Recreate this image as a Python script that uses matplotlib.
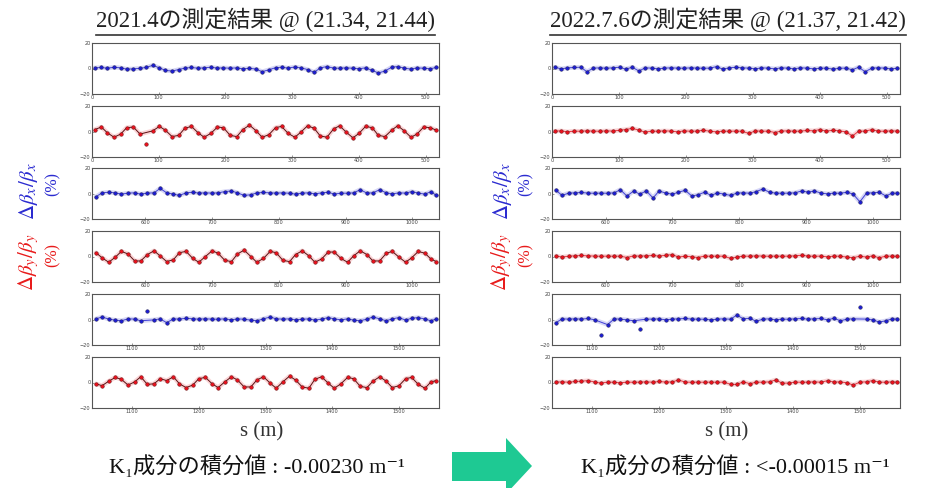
import numpy as np
import matplotlib
matplotlib.use('Agg')
import matplotlib.pyplot as plt
from matplotlib.lines import Line2D
from matplotlib.patches import Polygon

# ---------------- data ----------------
s_seg1 = [4, 14, 23, 33, 43, 52, 62, 72, 81,
          91, 101, 110, 120, 130, 139, 149, 159, 168,
          178, 188, 197, 207, 217, 226, 236, 246, 255,
          265, 275, 284, 294, 304, 313, 323, 333, 342,
          352, 362, 371, 381, 391, 400, 410, 420, 429,
          439, 449, 458, 468, 478, 487, 497, 507, 516]
s_seg2 = [526, 535, 545, 555, 564, 574, 584, 593, 603,
          613, 622, 632, 642, 651, 661, 671, 680, 690,
          700, 709, 719, 729, 738, 748, 758, 767, 777,
          787, 796, 806, 816, 825, 835, 845, 854, 864,
          874, 883, 893, 903, 912, 922, 932, 941, 951,
          961, 970, 980, 990, 999, 1009, 1019, 1028, 1036]
s_seg3 = [1046, 1055, 1065, 1075, 1084, 1094, 1104, 1113, 1123,
          1133, 1142, 1152, 1162, 1171, 1181, 1191, 1200, 1210,
          1220, 1229, 1239, 1249, 1258, 1268, 1278, 1287, 1297,
          1307, 1316, 1326, 1336, 1345, 1355, 1365, 1374, 1384,
          1394, 1403, 1413, 1423, 1432, 1442, 1452, 1461, 1471,
          1481, 1490, 1500, 1510, 1519, 1529, 1539, 1548, 1556]
s_bpm = s_seg1 + s_seg2 + s_seg3

# 2021.4 measurement: Δβx/βx (%)
dbx_2021 = [0.5, 0.8, 0.2, 1.0, 0.5, -0.5, -0.3, 0.2, 0.8,
            2.5, 0.5, -1.5, -2.0, -0.8, 0.3, 0.8, 0.2, 0.5,
            1.0, 0.3, 0.5, 0.2, 0.5, -0.3, 0.2, -0.5, -2.5,
            -1.0, 0.6, 1.0, 0.3, 1.2, 0.5, -0.8, -3.0, 0.5,
            1.5, 0.3, 0.2, 0.5, 0.2, -0.2, 0.5, -1.5, -3.5,
            -2.0, 1.0, 1.5, 0.3, -0.5, 0.5, 0.2, -0.2, 0.8,
            # segment 2
            -2.5, 0.5, 1.0, 0.5, -0.5, 0.3, 0.5, -0.5, 0.3,
            0.5, 4.0, 0.5, -0.5, -1.5, 0.5, 1.0, 0.3, 0.5,
            0.3, 0.5, 1.5, 2.0, 0.5, -1.5, -1.0, 0.5, 0.8,
            0.5, 0.3, 0.5, 0.2, -0.5, 0.3, 0.5, -0.3, 0.5,
            1.0, -0.5, 0.3, 0.2, 0.5, 3.0, 0.3, 0.5, 3.0,
            0.5, -0.3, 0.5, 0.3, 1.5, 0.3, -0.5, 1.5, -1.5,
            # segment 3
            0.5, 2.0, 0.3, -0.5, -1.0, 0.5, 0.3, -1.0, 7.0,
            -0.3, 0.5, -2.5, 0.5, 0.3, 1.0, 0.5, 0.3, 0.5,
            0.3, 0.2, 0.5, -0.3, 0.5, 0.2, -0.5, -1.0, 0.5,
            2.0, 0.5, 0.3, 0.5, -0.3, 0.2, 0.5, -0.5, 0.3,
            1.5, 0.5, -0.3, 0.5, -0.5, -1.0, 0.3, 2.0, 0.5,
            -1.0, 0.5, 1.5, -0.5, 1.0, 1.5, 0.3, -1.0, 0.5]

# 2021.4 measurement: Δβy/βy (%)
dby_2021 = [1.5, 3.5, -1.0, -4.5, -2.0, 3.0, 3.5, -2.0, -10.0,
            0.5, 4.0, 1.0, -4.0, -3.0, 2.5, 4.0, -1.0, -4.5,
            -1.5, 3.5, 3.0, -3.0, -4.0, 1.5, 5.0, 0.5, -4.5,
            -2.5, 3.0, 4.0, -1.5, -4.5, -0.5, 4.5, 2.5, -3.5,
            -4.5, 2.0, 4.5, -0.5, -5.0, -1.5, 4.0, 3.0, -3.0,
            -4.0, 1.0, 4.5, 0.5, -4.5, -2.0, 3.5, 3.0, 1.0,
            # segment 2
            3.0, -1.0, -4.5, -0.5, 4.0, 2.0, -3.5, -3.5, 1.5,
            4.5, 0.5, -4.0, -2.5, 3.0, 4.0, -1.5, -4.5, 0.0,
            4.5, 2.5, -3.0, -4.0, 2.0, 5.0, 0.0, -4.5, -1.5,
            4.0, 3.0, -3.0, -4.0, 1.5, 4.5, 0.5, -4.5, -2.0,
            3.5, 3.5, -1.5, -4.5, 0.5, 4.5, 1.5, -3.5, -3.5,
            2.5, 4.0, -0.5, -4.5, -1.0, 4.0, 2.5, -2.0, -4.0,
            # segment 3
            -1.0, -2.5, 1.0, 4.0, 2.5, -2.0, 0.5, 4.5, -1.5,
            -1.0, 3.0, 1.5, 4.5, -1.0, -4.0, -2.0, 3.0, 4.0,
            -1.0, -4.0, 0.5, 4.5, 2.0, -3.5, -3.5, 2.0, 4.5,
            -0.5, -4.5, 0.5, 5.0, 2.0, -3.5, -4.5, 2.5, 4.5,
            -0.5, -4.5, -1.0, 4.0, 3.0, -3.0, -4.0, 1.0, 4.5,
            1.0, -4.0, -2.5, 3.0, 4.0, -1.5, -4.5, 0.5, 1.5]

# 2022.7.6 measurement: Δβx/βx (%)
dbx_2022 = [1.0, -0.3, 0.5, 0.8, 1.0, -2.5, 0.3, 0.5, 0.2,
            0.5, 1.0, -0.5, 1.0, -2.0, 0.5, 0.3, -0.3, 0.3,
            0.5, 0.3, 0.2, 0.5, 0.3, 0.2, 0.3, 1.5, -0.5,
            0.5, 1.0, 0.5, 0.3, -0.3, 0.5, 0.3, -0.3, 0.5,
            0.3, -0.3, 0.5, 0.3, -0.3, 0.2, 0.3, -0.5, 0.2,
            0.3, -1.0, 1.0, -2.5, 0.3, 0.5, 0.3, -0.3, 0.2,
            # segment 2
            2.5, -1.5, 0.3, 0.5, 0.8, 0.3, 0.2, 0.3, 0.2,
            0.5, 3.0, -2.0, 2.0, -0.5, 2.0, -3.5, 2.0, 0.3,
            -0.5, 1.0, 2.5, -2.0, -1.0, 1.0, -1.5, 0.5, -0.5,
            -1.5, 0.3, 0.5, 0.2, 1.5, 3.5, 1.0, 0.3, 0.2,
            0.3, 0.5, 2.0, 1.0, 2.0, 0.3, -0.3, 0.3, 0.2,
            1.0, -0.5, -6.5, 0.3, 0.5, 1.0, -2.0, 0.3, 0.2,
            # segment 3
            -2.5, 0.5, 0.3, 0.5, 0.3, 0.8, -0.3, -12.0, -4.0,
            0.5, 0.3, -0.3, -1.0, -7.5, 0.3, 0.3, 0.5, -0.3,
            0.3, 0.5, 0.8, 0.3, 0.3, 0.2, -0.3, 0.3, 0.5,
            0.2, 3.5, 0.5, 1.0, -1.5, 0.3, 0.5, -0.3, 0.3,
            0.2, 0.5, 0.8, 0.3, 0.5, 0.8, -0.3, 1.0, -1.0,
            0.3, 0.5, 9.5, 0.3, -0.3, -2.0, -1.0, 0.5, 0.3]

# 2022.7.6 measurement: Δβy/βy (%)
dby_2022 = [0.3, 0.5, -0.3, 0.3, 0.2, 0.5, 0.3, 0.2, 0.5,
            0.3, 1.0, 1.5, 2.5, 1.0, -0.5, 0.3, 0.2, 0.5,
            0.3, -0.3, 0.5, 0.2, 0.3, 1.0, 0.2, -0.3, 0.3,
            0.2, 0.3, 0.2, -1.5, 0.5, 0.2, 0.3, -0.8, 0.3,
            0.5, 0.2, 0.3, 0.8, 0.5, 1.5, 0.3, 1.0, 0.5,
            -0.3, -3.5, 0.2, 0.3, 1.5, 0.3, 0.2, 0.5, 0.3,
            # segment 2
            0.5, -0.5, 0.3, 0.5, 0.8, 0.5, 0.3, 0.2, 0.3,
            0.2, 0.3, -0.8, 0.5, 0.3, 0.5, 0.8, 0.3, 1.0,
            1.5, -0.5, 0.3, -0.3, -0.8, 0.3, 0.2, 0.3, 0.2,
            -1.5, -0.5, 0.3, 0.2, 0.5, 0.3, 0.2, 0.3, 0.2,
            0.3, 0.5, 1.0, 0.3, 0.2, 0.3, -0.3, 0.3, 0.2,
            -0.5, -1.0, 0.3, -0.5, 0.5, -1.0, 0.3, 0.2, 0.3,
            # segment 3
            0.3, 0.5, 0.2, 0.8, 1.0, 1.5, 0.3, -0.5, 0.3,
            0.2, -0.3, 0.3, 0.2, 0.3, 0.5, 0.2, 0.8, 0.3,
            0.5, 2.0, 0.3, 0.2, 0.3, 0.2, 0.3, 0.2, 0.3,
            -1.5, -1.5, 0.5, -1.0, 0.3, 0.2, 0.5, 2.0, -0.5,
            -0.5, 0.3, 0.2, 0.3, 0.5, 0.2, 1.5, 0.3, 0.5,
            -0.3, -2.0, 0.3, 0.5, 1.5, 0.3, 0.2, 0.5, 0.3]

seg_ranges = [(0, 520), (520, 1040), (1040, 1560)]
seg_ticks = [[0, 100, 200, 300, 400, 500],
             [600, 700, 800, 900, 1000],
             [1100, 1200, 1300, 1400, 1500]]
y_ticks = [-20, 0, 20]

titles = ["2021.4の測定結果 @ (21.34, 21.44)", "2022.7.6の測定結果 @ (21.37, 21.42)"]
k1_texts = ["K₁成分の積分値 : -0.00230 m⁻¹", "K₁成分の積分値 : <-0.00015 m⁻¹"]

# ---------------- layout ----------------
W, H = 932, 488
fig = plt.figure(figsize=(W / 100, H / 100), dpi=100)
fig.patch.set_facecolor('white')

def fx(px):
    return px / W

def fy(py):
    return 1 - py / H

serif_cjk = ['Liberation Serif', 'DejaVu Serif', 'Noto Sans CJK JP']
plt.rcParams['mathtext.fontset'] = 'stix'

col_x = [(92, 439), (552, 900)]
row_tops = [43, 106, 168, 231, 294, 357]
row_h = 51

BLUE = '#1c1cd0'
RED = '#e8101c'

series = [(dbx_2021, dby_2021), (dbx_2022, dby_2022)]
s_arr = np.array(s_bpm, dtype=float)

for col in range(2):
    x0, x1 = col_x[col]
    dbx, dby = series[col]
    for seg in range(3):
        lo, hi = seg_ranges[seg]
        m = (s_arr >= lo) & (s_arr <= hi)
        for k, (data, color) in enumerate([(dbx, BLUE), (dby, RED)]):
            row = seg * 2 + k
            top = row_tops[row]
            ax = fig.add_axes([fx(x0), fy(top + row_h), fx(x1) - fx(x0), row_h / H])
            d = np.array(data, dtype=float)
            xs = s_arr[m]
            ys = d[m]
            lm = np.abs(ys) < 7
            # pale band + model line
            ax.plot(xs[lm], ys[lm], color=color, lw=3.2, alpha=0.18, solid_capstyle='round')
            if col == 0 and k == 1:
                ax.plot(xs[lm], ys[lm], color='#5a1010', lw=0.7)
            else:
                ax.plot(xs[lm], ys[lm], color=color, lw=0.7, alpha=0.8)
            ax.plot(xs, ys, 'o', color=color, ms=2.6, mec='#202040' if k == 0 else '#501010',
                    mew=0.3, ls='none')
            ax.set_xlim(lo, hi)
            ax.set_ylim(-20, 20)
            ax.set_xticks(seg_ticks[seg])
            ax.set_yticks(y_ticks)
            ax.tick_params(labelsize=3.6, length=1.5, width=0.4, pad=1,
                           colors='#444444', direction='in')
            for sp in ax.spines.values():
                sp.set_color('#555555')
                sp.set_linewidth(0.8)

# titles with underline
title_cx = [265, 728]
for col in range(2):
    t = fig.text(fx(title_cx[col]), fy(20), titles[col], ha='center', va='center',
                 fontsize=16.5, family=serif_cjk, color='#222222')
    fig.canvas.draw()
    bb = t.get_window_extent()
    fig.add_artist(Line2D([bb.x0 / W, bb.x1 / W], [fy(35), fy(35)],
                          transform=fig.transFigure, color='#333333', lw=1.2))

# y labels
ylab_x = [(29, 53), (502, 526)]
for col in range(2):
    xa, xb = ylab_x[col]
    fig.text(fx(xa), fy(191), r'$\Delta\beta_x/\beta_x$', rotation=90, ha='center', va='center',
             fontsize=15, color='#2a2ad0')
    fig.text(fx(xb), fy(184), '(%)', rotation=90, ha='center', va='center',
             fontsize=11.5, family=serif_cjk, color='#2a2ad0')
    fig.text(fx(xa), fy(262), r'$\Delta\beta_y/\beta_y$', rotation=90, ha='center', va='center',
             fontsize=15, color='#e81a1a')
    fig.text(fx(xb), fy(255), '(%)', rotation=90, ha='center', va='center',
             fontsize=11.5, family=serif_cjk, color='#e81a1a')

# s (m) labels
for cx in [262, 727]:
    fig.text(fx(cx), fy(432), 's (m)', ha='center', va='center', fontsize=15,
             family=serif_cjk, color='#333333')

# K1 texts
k1_cx = [257, 735]
for col in range(2):
    fig.text(fx(k1_cx[col]), fy(467), k1_texts[col], ha='center', va='center',
             fontsize=16, family=serif_cjk, color='#111111')

# arrow
arrow_px = [(452, 452), (506, 452), (506, 438), (532, 466), (506, 494), (506, 481), (452, 481)]
fig.add_artist(Polygon([(fx(x), fy(y)) for x, y in arrow_px], closed=True,
                       transform=fig.transFigure, facecolor='#1ec993', edgecolor='none'))

fig.savefig('out.png', dpi=100)
